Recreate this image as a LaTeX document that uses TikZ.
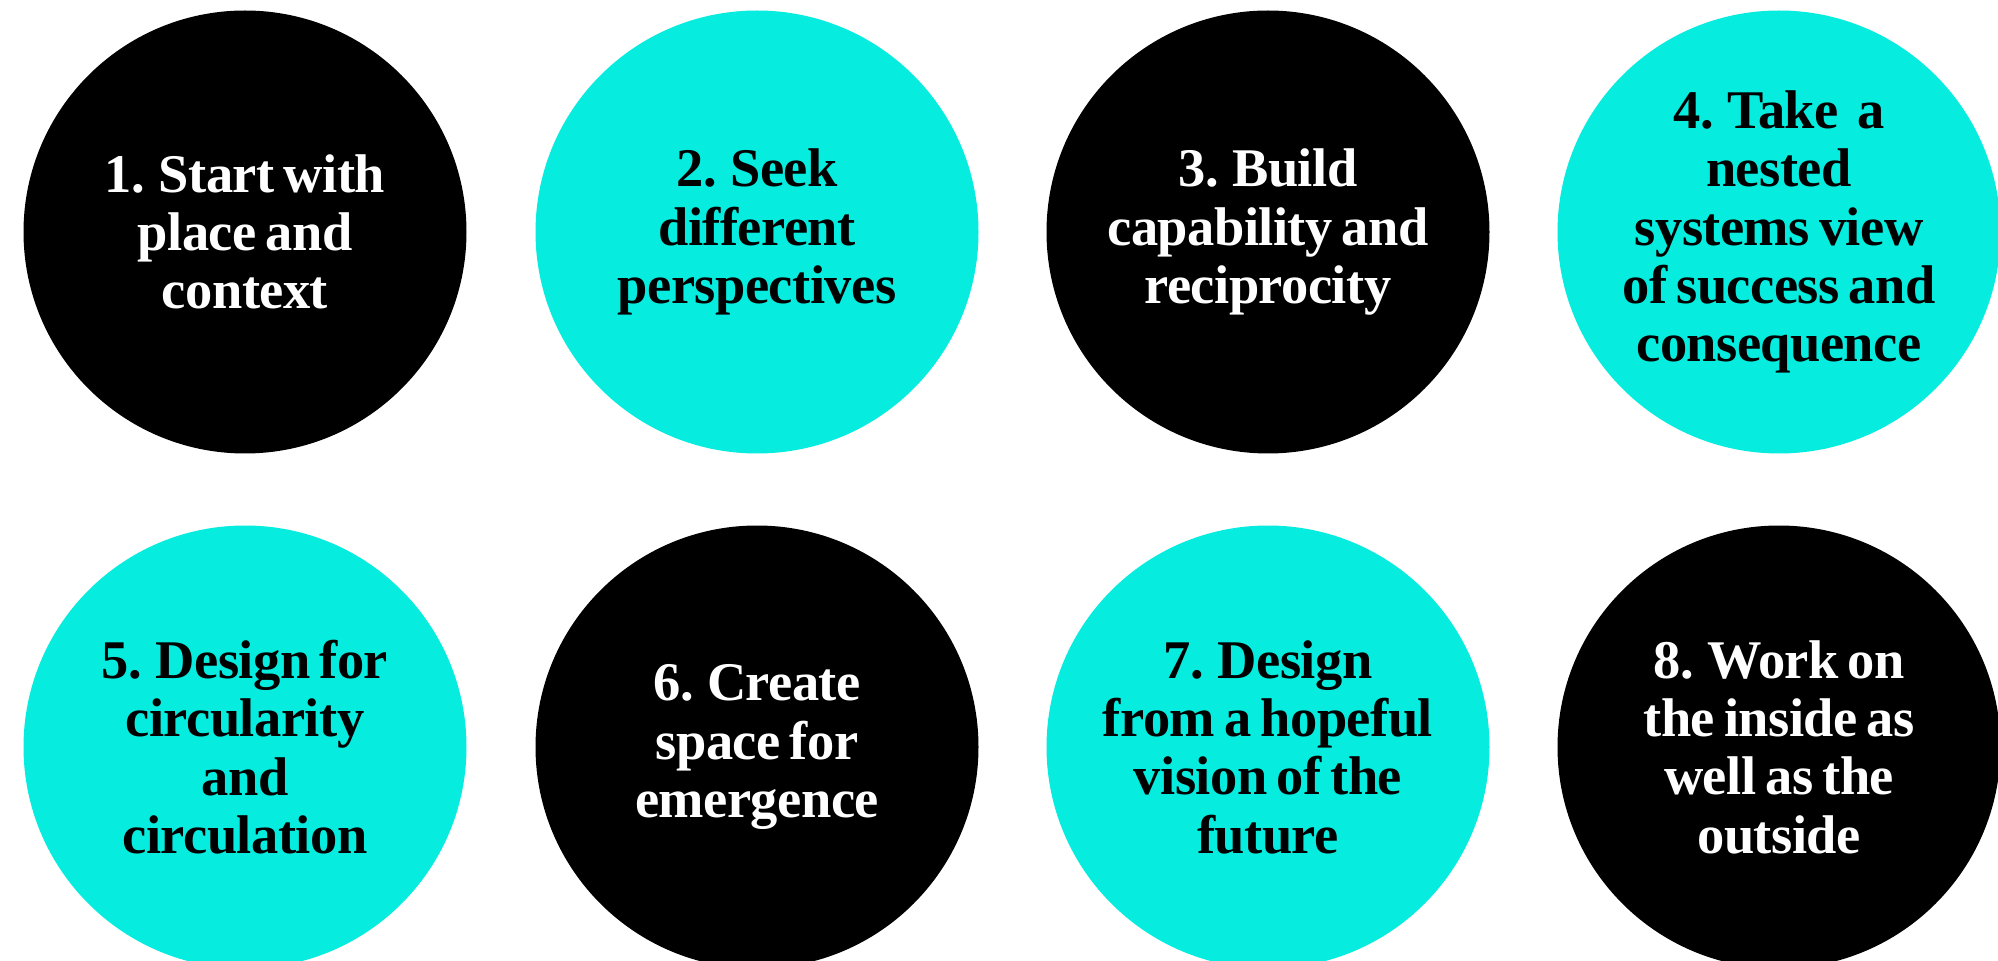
\documentclass[tikz,border=0pt]{standalone}
\usepackage{fontspec}
\setmainfont{Liberation Serif}[LetterSpace=-1,WordSpace=0.7]
\definecolor{cyanfill}{RGB}{6,236,223}
\tikzset{
  disc/.style={circle, minimum size=44.3mm, inner sep=0pt, align=center,
    font=\bfseries\fontsize{15.5}{16.6}\selectfont},
  darkdisc/.style={disc, fill=black, text=white},
  lightdisc/.style={disc, fill=cyanfill, text=black}
}
\begin{document}
\begin{tikzpicture}[x=0.1mm,y=-0.1mm]
\useasboundingbox (0,0) rectangle (1998,961);
\node[darkdisc]  (c1) at (245,232) {1. Start with\\place and\\context};
\node[lightdisc] (c2) at (757,232) {2. Seek\\different\\perspectives};
\node[darkdisc]  (c3) at (1268,232) {3. Build\\capability and\\reciprocity};
\node[lightdisc] (c4) at (1779,232) {4. Take\ \ a\\nested\\systems view\\of success and\\consequence};
\node[lightdisc] (c5) at (245,747) {5. Design for\\circularity\\and\\circulation};
\node[darkdisc]  (c6) at (757,747) {6. Create\\space for\\emergence};
\node[lightdisc] (c7) at (1268,747) {7. Design\\from a hopeful\\vision of the\\future};
\node[darkdisc]  (c8) at (1779,747) {8. Work on\\the inside as\\well as the\\outside};
\end{tikzpicture}
\end{document}
